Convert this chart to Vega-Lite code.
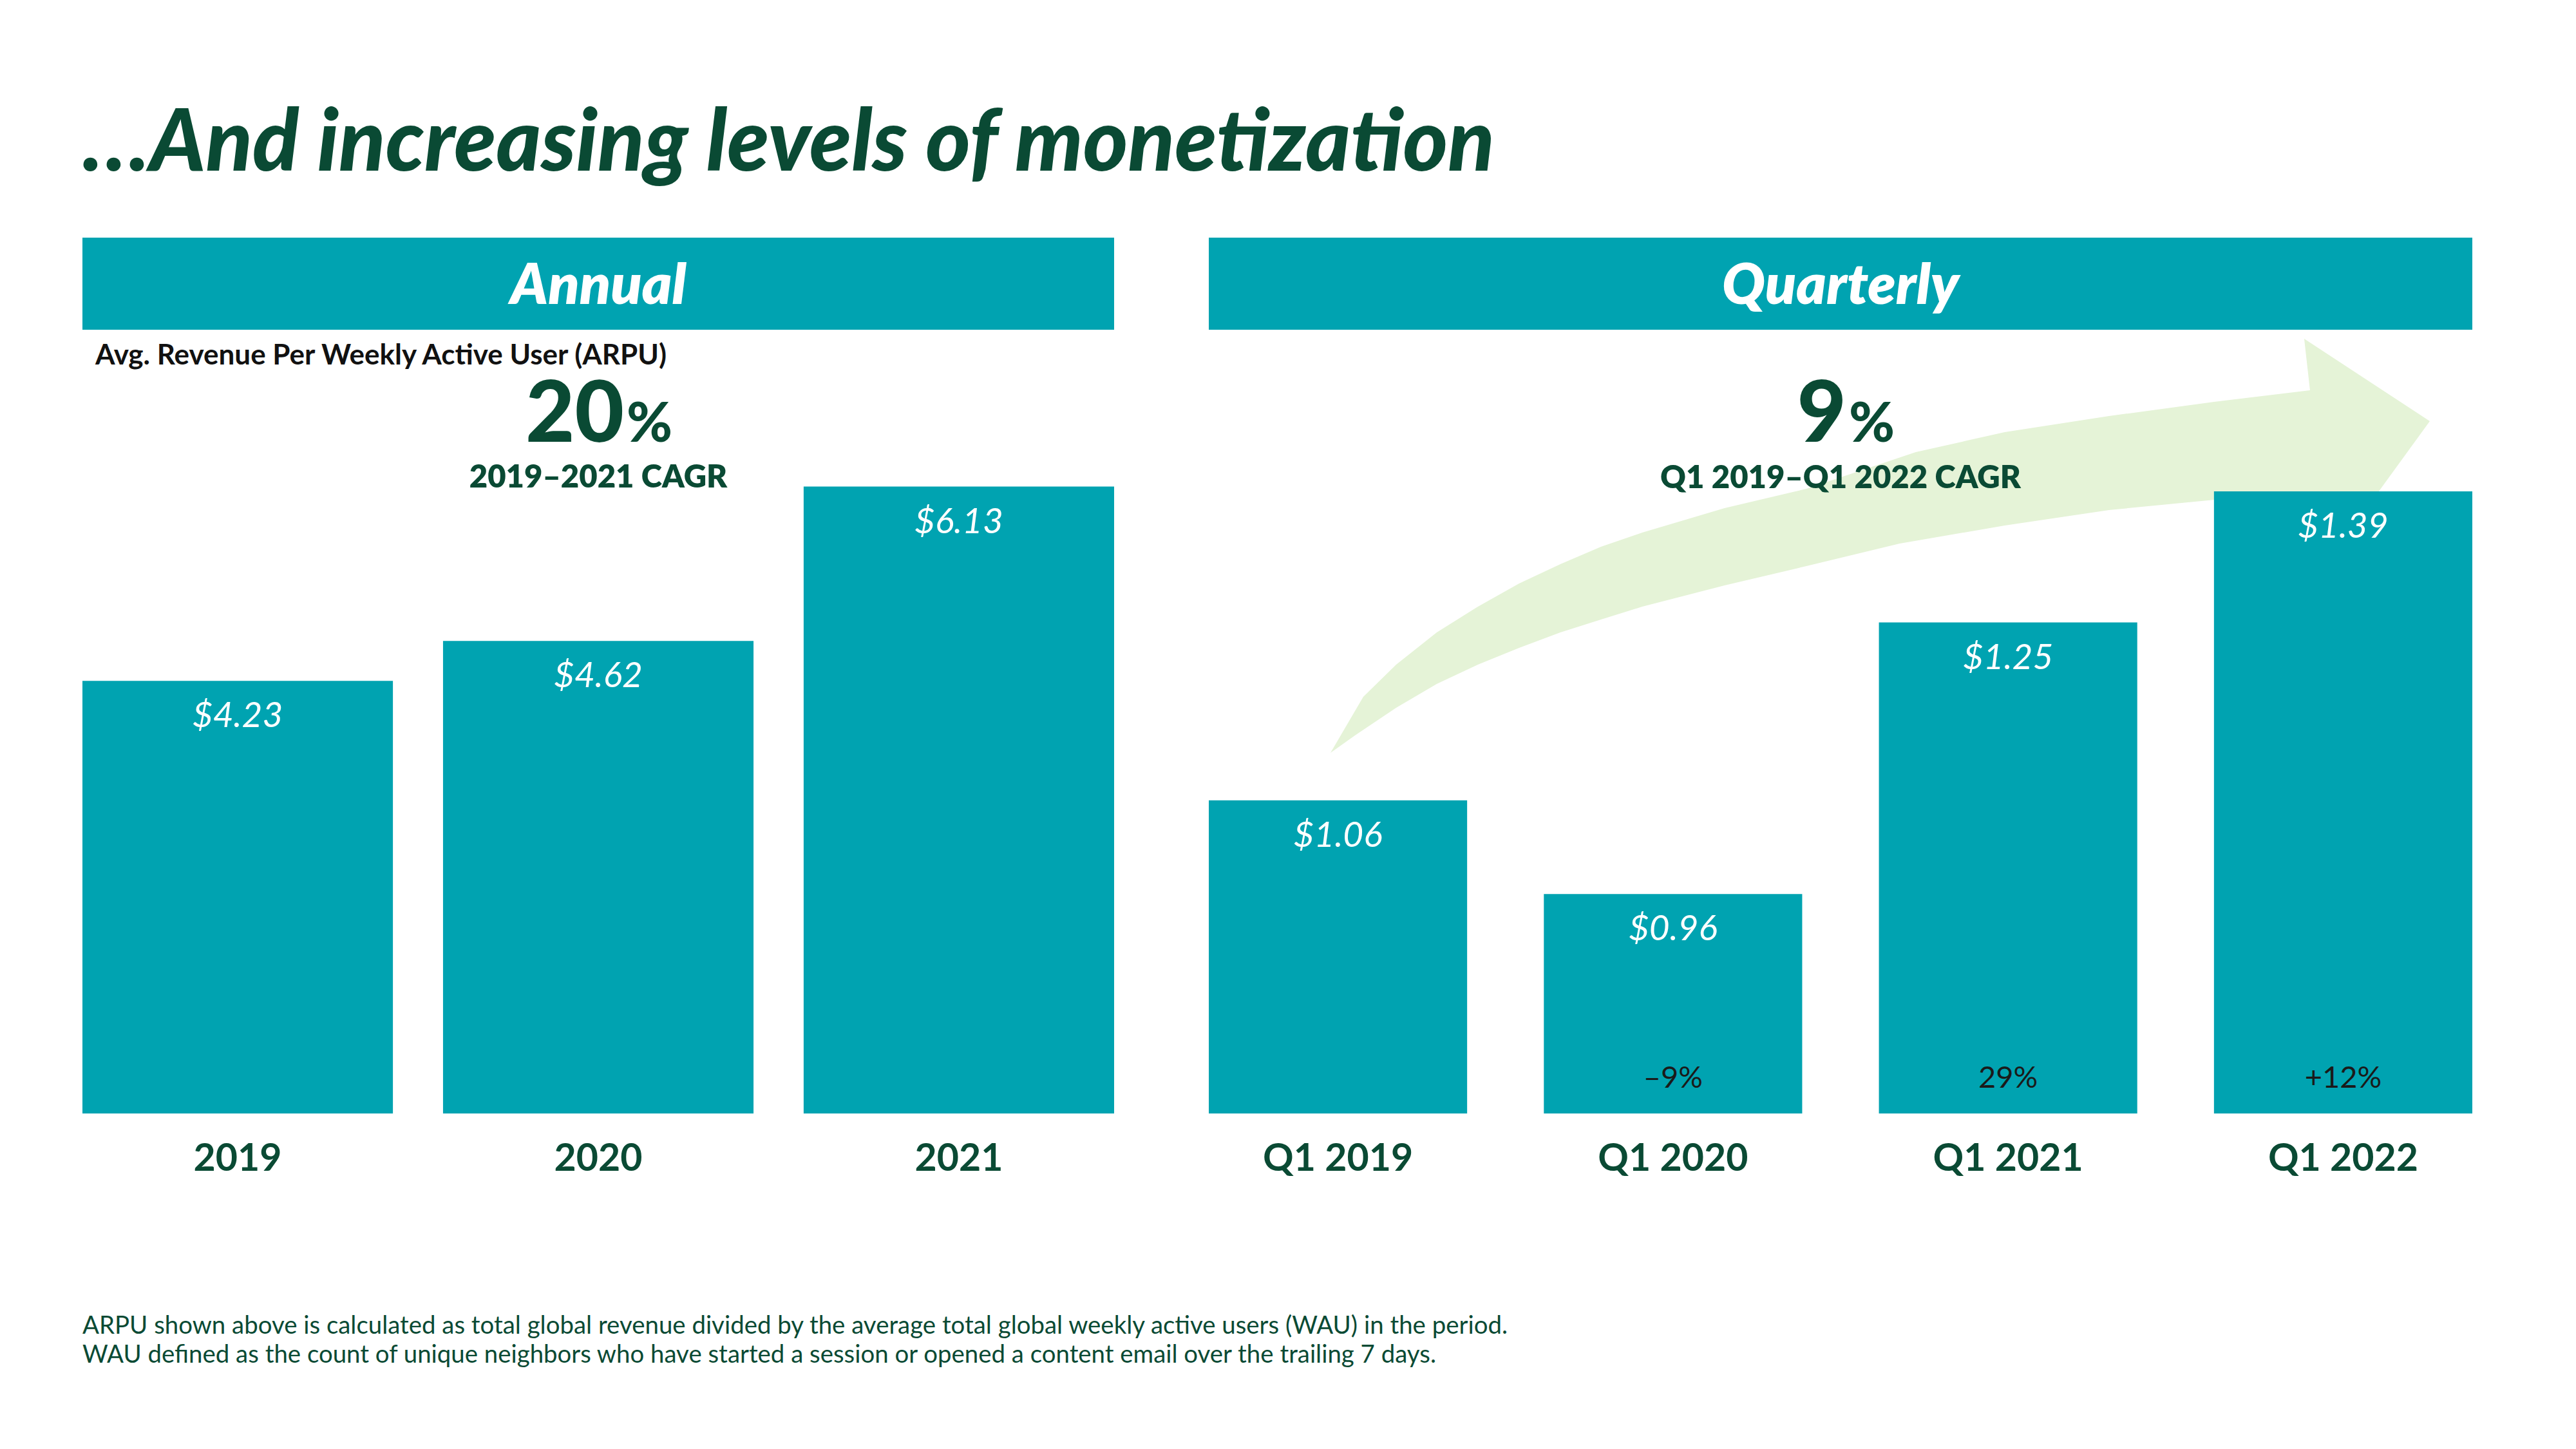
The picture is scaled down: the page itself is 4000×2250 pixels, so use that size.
{
  "$schema": "https://vega.github.io/schema/vega-lite/v6.json",
  "background": "white",
  "padding": {"left": 128, "top": 159, "right": 20, "bottom": 20},
  "title": {
    "text": "…And increasing levels of monetization",
    "anchor": "start",
    "font": "Lato",
    "fontSize": 133,
    "fontWeight": 900,
    "fontStyle": "italic",
    "color": "#0A4A34",
    "baseline": "top",
    "offset": 76
  },
  "config": {
    "view": {"stroke": null},
    "font": "Lato",
    "axisX": {
      "domain": false,
      "ticks": false,
      "tickSize": 0,
      "grid": false,
      "labelFont": "Lato",
      "labelFontSize": 59,
      "labelFontWeight": "bold",
      "labelColor": "#0A4A34",
      "labelPadding": 41,
      "labelLimit": 0,
      "labelAngle": 0
    }
  },
  "vconcat": [
    {
      "title": {
        "text": [
          "ARPU shown above is calculated as total global revenue divided by the average total global weekly active users (WAU) in the period.",
          "WAU defined as the count of unique neighbors who have started a session or opened a content email over the trailing 7 days."
        ],
        "orient": "bottom",
        "anchor": "start",
        "font": "Lato",
        "fontSize": 38.4,
        "fontWeight": "normal",
        "color": "#0A4A34",
        "lineHeight": 45,
        "baseline": "top",
        "offset": 212
      },
      "spacing": 147,
      "hconcat": [
        {
          "spacing": 0,
          "vconcat": [
            {
              "width": 1602,
              "height": 143,
              "view": {"fill": "#00A3B1", "stroke": null},
              "data": {"values": [{"panel": "Annual"}]},
              "mark": {"type": "text", "font": "Lato", "fontSize": 88, "fontWeight": 800, "fontStyle": "italic", "color": "white", "baseline": "alphabetic", "dy": 31},
              "encoding": {"text": {"field": "panel", "type": "nominal"}}
            },
            {
              "width": 1602,
              "height": 1217,
              "data": {"values": [
                {"year": "2019", "arpu": 4.23},
                {"year": "2020", "arpu": 4.62},
                {"year": "2021", "arpu": 6.13}
              ]},
              "layer": [
                {
                  "mark": {"type": "bar", "color": "#00A3B1"},
                  "encoding": {
                    "x": {"field": "year", "type": "nominal", "sort": null, "title": null, "scale": {"type": "band", "domain": ["2019", "2020", "2021"], "paddingInner": 0.139, "paddingOuter": 0}},
                    "y": {"field": "arpu", "type": "quantitative", "scale": {"domain": [0, 7.664], "nice": false, "zero": true}, "axis": null}
                  }
                },
                {
                  "mark": {"type": "text", "color": "white", "font": "Lato", "fontSize": 55, "fontStyle": "italic", "baseline": "alphabetic", "dy": 72},
                  "encoding": {
                    "x": {"field": "year", "type": "nominal", "sort": null, "title": null},
                    "y": {"field": "arpu", "type": "quantitative", "axis": null},
                    "text": {"field": "arpu", "type": "quantitative", "format": "$.2f"}
                  }
                },
                {
                  "data": {"values": [{"note": "Avg. Revenue Per Weekly Active User (ARPU)"}]},
                  "mark": {"type": "text", "align": "left", "baseline": "alphabetic", "font": "Lato", "fontSize": 44, "fontWeight": 700, "color": "#111111", "dx": 20},
                  "encoding": {
                    "x": {"datum": "2019", "bandPosition": 0, "title": null},
                    "y": {"datum": 7.324, "axis": null},
                    "text": {"field": "note", "type": "nominal"}
                  }
                },
                {
                  "data": {"values": [{"cagr": "20"}]},
                  "mark": {"type": "text", "align": "right", "baseline": "alphabetic", "font": "Lato", "fontSize": 132, "fontWeight": 900, "color": "#0A4A34", "dx": 40},
                  "encoding": {
                    "y": {"datum": 6.568, "axis": null},
                    "text": {"field": "cagr", "type": "nominal"}
                  }
                },
                {
                  "data": {"values": [{"sign": "%"}]},
                  "mark": {"type": "text", "align": "left", "baseline": "alphabetic", "font": "Lato", "fontSize": 86, "fontWeight": 900, "color": "#0A4A34", "dx": 44},
                  "encoding": {
                    "y": {"datum": 6.568, "axis": null},
                    "text": {"field": "sign", "type": "nominal"}
                  }
                },
                {
                  "data": {"values": [{"period": "2019–2021 CAGR"}]},
                  "mark": {"type": "text", "align": "center", "baseline": "alphabetic", "font": "Lato", "fontSize": 49, "fontWeight": 800, "color": "#0A4A34"},
                  "encoding": {
                    "y": {"datum": 6.121, "axis": null},
                    "text": {"field": "period", "type": "nominal"}
                  }
                }
              ]
            }
          ]
        },
        {
          "spacing": 0,
          "vconcat": [
            {
              "width": 1962,
              "height": 143,
              "view": {"fill": "#00A3B1", "stroke": null},
              "data": {"values": [{"panel": "Quarterly"}]},
              "mark": {"type": "text", "font": "Lato", "fontSize": 88, "fontWeight": 800, "fontStyle": "italic", "color": "white", "baseline": "alphabetic", "dy": 31},
              "encoding": {"text": {"field": "panel", "type": "nominal"}}
            },
            {
              "width": 1962,
              "height": 1217,
              "data": {"values": [
                {"quarter": "Q1 2019", "arpu": 1.06, "change": null},
                {"quarter": "Q1 2020", "arpu": 0.96, "change": "–9%"},
                {"quarter": "Q1 2021", "arpu": 1.25, "change": "29%"},
                {"quarter": "Q1 2022", "arpu": 1.39, "change": "+12%"}
              ]},
              "layer": [
                {
                  "data": {"values": [{"shape": "growth arrow"}]},
                  "mark": {
                    "type": "point",
                    "shape": "M-0.9565,0.2898 L-0.9102,0.2107 L-0.8638,0.1653 L-0.8065,0.1198 L-0.7484,0.0835 L-0.6902,0.0507 L-0.632,0.0235 L-0.5747,-0.0011 L-0.5165,-0.0211 L-0.4002,-0.0556 L-0.2847,-0.0829 L-0.1302,-0.1347 L-0.0047,-0.1629 L0.1425,-0.1856 L0.2907,-0.2056 L0.4262,-0.222 L0.418,-0.2947 L0.5953,-0.1784 L0.4698,-0.0056 L0.4516,-0.0738 L0.2916,-0.0675 L0.1425,-0.0529 L-0.0047,-0.0311 L-0.1529,-0.0056 L-0.2847,0.0262 L-0.4002,0.0535 L-0.5165,0.0835 L-0.5747,0.1016 L-0.632,0.1198 L-0.6902,0.1416 L-0.7484,0.1653 L-0.8065,0.1925 L-0.8638,0.2262 L-0.922,0.2653 Z",
                    "size": 4840000,
                    "filled": true,
                    "color": "#E5F3D7",
                    "opacity": 1,
                    "strokeWidth": 0
                  },
                  "encoding": {
                    "x": {"datum": "Q1 2021", "title": null},
                    "y": {"datum": 1.33, "axis": null}
                  }
                },
                {
                  "mark": {"type": "bar", "color": "#00A3B1"},
                  "encoding": {
                    "x": {"field": "quarter", "type": "nominal", "sort": null, "title": null, "scale": {"type": "band", "domain": ["Q1 2019", "Q1 2020", "Q1 2021", "Q1 2022"], "paddingInner": 0.229, "paddingOuter": 0}},
                    "y": {"field": "arpu", "type": "quantitative", "scale": {"domain": [0.7256, 1.5626], "nice": false, "zero": false}, "axis": null},
                    "y2": {"datum": 0.7256}
                  }
                },
                {
                  "mark": {"type": "text", "color": "white", "font": "Lato", "fontSize": 55, "fontStyle": "italic", "baseline": "alphabetic", "dy": 72},
                  "encoding": {
                    "x": {"field": "quarter", "type": "nominal", "sort": null, "title": null},
                    "y": {"field": "arpu", "type": "quantitative", "axis": null},
                    "text": {"field": "arpu", "type": "quantitative", "format": "$.2f"}
                  }
                },
                {
                  "transform": [{"filter": "datum.change != null"}],
                  "mark": {"type": "text", "color": "#1A1A1A", "font": "Lato", "fontSize": 47, "baseline": "alphabetic", "dy": -40},
                  "encoding": {
                    "x": {"field": "quarter", "type": "nominal", "sort": null, "title": null},
                    "y": {"datum": 0.7256, "axis": null},
                    "text": {"field": "change", "type": "nominal"}
                  }
                },
                {
                  "data": {"values": [{"cagr": "9"}]},
                  "mark": {"type": "text", "align": "right", "baseline": "alphabetic", "font": "Lato", "fontSize": 132, "fontWeight": 900, "color": "#0A4A34", "dx": 9},
                  "encoding": {
                    "y": {"datum": 1.4429, "axis": null},
                    "text": {"field": "cagr", "type": "nominal"}
                  }
                },
                {
                  "data": {"values": [{"sign": "%"}]},
                  "mark": {"type": "text", "align": "left", "baseline": "alphabetic", "font": "Lato", "fontSize": 86, "fontWeight": 900, "color": "#0A4A34", "dx": 13},
                  "encoding": {
                    "y": {"datum": 1.4429, "axis": null},
                    "text": {"field": "sign", "type": "nominal"}
                  }
                },
                {
                  "data": {"values": [{"period": "Q1 2019–Q1 2022 CAGR"}]},
                  "mark": {"type": "text", "align": "center", "baseline": "alphabetic", "font": "Lato", "fontSize": 49, "fontWeight": 800, "color": "#0A4A34"},
                  "encoding": {
                    "y": {"datum": 1.3934, "axis": null},
                    "text": {"field": "period", "type": "nominal"}
                  }
                }
              ]
            }
          ]
        }
      ]
    }
  ]
}
